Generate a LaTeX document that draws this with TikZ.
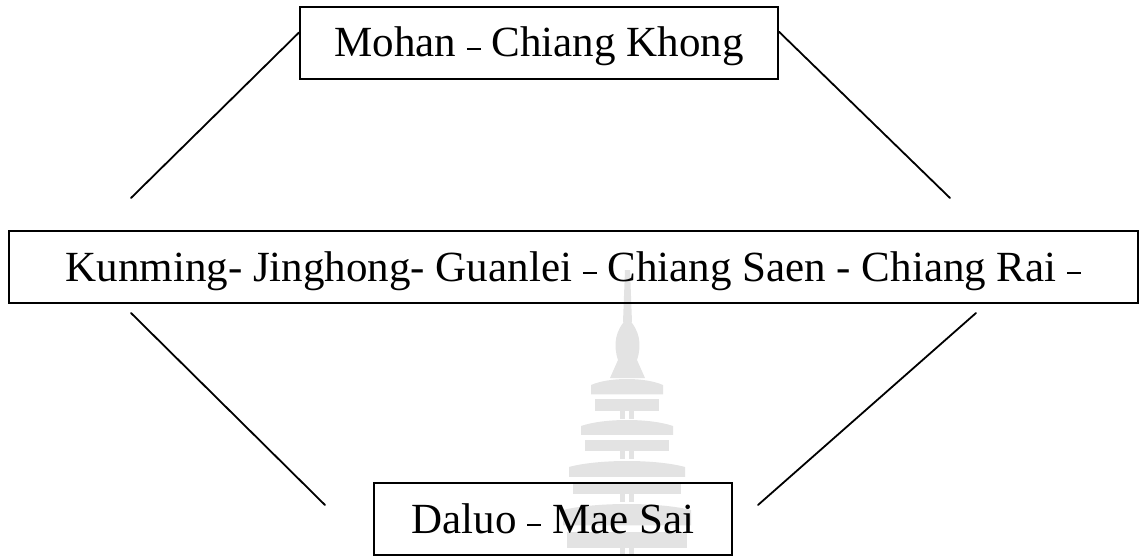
\documentclass[tikz,border=0pt]{standalone}
\usepackage{fontspec}
\setmainfont{Liberation Serif}
\usetikzlibrary{calc}
% thin dash sitting low on the line
\newcommand\lowdash{\rule[7pt]{14pt}{1.6pt}}
\begin{document}
\begin{tikzpicture}[x=1pt,y=-1pt,
  place/.style={draw, line width=2.2pt, inner sep=0pt,
    font=\fontsize{43}{50}\selectfont, text height=28pt, text depth=0pt},
  link/.style={line width=1.8pt, line cap=round},
  wm/.style={fill=black!11}]
\useasboundingbox (0,0) rectangle (1140,556);

% faint pagoda emblem in the background
\fill[wm] (625,270) -- (630,270) -- (632,322) -- (623,322) -- cycle;
\fill[wm] (627.5,318) .. controls (640,330) and (642,345) .. (637,360)
  -- (618,360) .. controls (613,345) and (615,330) .. (627.5,318);
\fill[wm] (618,360) -- (637,360) -- (645,378) -- (610,378) -- cycle;
\def\cx{627}
\foreach \y/\h/\hw in {378/39/36, 419/38/46, 460/40/58, 503/53/64}{
  \fill[wm] (\cx-\hw,\y+7) .. controls (\cx-0.5*\hw,\y-1) and (\cx+0.5*\hw,\y-1) .. (\cx+\hw,\y+7)
    -- (\cx+\hw,\y+0.42*\h) -- (\cx-\hw,\y+0.42*\h) -- cycle;
  \fill[wm] (\cx-\hw+4,\y+0.55*\h) rectangle (\cx+\hw-4,\y+0.85*\h);
  \fill[wm] (\cx-7,\y+0.85*\h) rectangle (\cx-2,\y+\h+2);
  \fill[wm] (\cx+2,\y+0.85*\h) rectangle (\cx+7,\y+\h+2);
}

% route boxes
\node[place, minimum width=478pt, minimum height=72pt] (top) at (539,43) {Mohan \lowdash{} Chiang Khong};
\node[place, minimum width=1129pt, minimum height=72pt] (mid) at (573.5,267) {Kunming- Jinghong- Guanlei \lowdash{} Chiang Saen - Chiang Rai \lowdash};
\node[place, minimum width=358pt, minimum height=72pt] (bot) at (553,519) {Daluo \lowdash{} Mae Sai};

% connecting strokes
\coordinate (tlEnd) at (131,198);
\coordinate (trEnd) at (950,198);
\coordinate (blTop) at (131,313);
\coordinate (blEnd) at (325,505);
\coordinate (brTop) at (976,313);
\coordinate (brEnd) at (758,505);
\draw[link] (tlEnd) -- ($(top.north west)!0.36!(top.south west)$);
\draw[link] ($(top.north east)!0.35!(top.south east)$) -- (trEnd);
\draw[link] (blTop) -- (blEnd);
\draw[link] (brTop) -- (brEnd);
\end{tikzpicture}
\end{document}
